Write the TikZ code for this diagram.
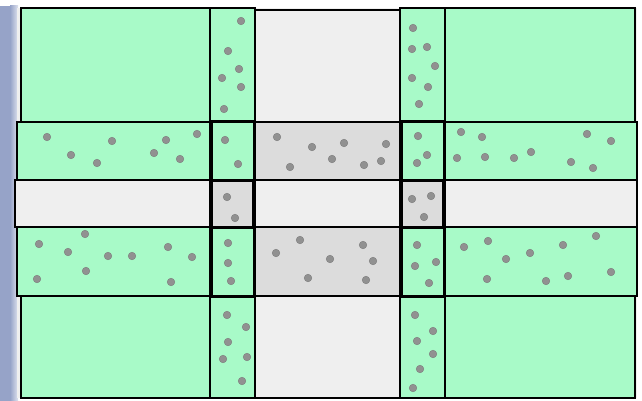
\documentclass[tikz,border=0pt]{standalone}
\definecolor{mint}{RGB}{168,250,200}
\definecolor{paper}{RGB}{239,239,239}
\definecolor{crossgray}{RGB}{220,220,220}
\definecolor{graincol}{RGB}{145,145,145}
\definecolor{slide}{RGB}{150,163,200}
\begin{document}
\begin{tikzpicture}[x=1pt,y=-1pt,
    cell/.style={draw=black,line width=1.3pt},
    strip/.style={draw=black,line width=2.2pt},
    knot/.style={draw=black,line width=3pt},
    grain/.style={fill=graincol,draw=graincol!85!black,line width=0.4pt}]
    \useasboundingbox (0,0) rectangle (642,401);
    % Slide background
    \fill[white] (0,0) rectangle (642,401);
    \fill[slide] (0,6) rectangle (10,401);
    \shade[left color=slide,right color=slide!30!white] (10,6) rectangle (18,401);
    \fill[paper] (17,8) rectangle (637,398);

    % Green corner blocks
    \foreach \xa/\xb in {21/210,445/635}
        \foreach \ya/\yb in {8/122,296/398}
            \draw[cell,fill=mint] (\xa,\ya) rectangle (\xb,\yb);

    % Middle white blocks
    \draw[cell,fill=paper] (255,10) rectangle (400,122);
    \draw[cell,fill=paper] (255,296) rectangle (400,398);
    \draw[cell,fill=paper] (15,180) rectangle (210,227);
    \draw[cell,fill=paper] (445,180) rectangle (637,227);
    \draw[cell,fill=paper] (255,180) rectangle (400,227);

    % Column strips
    \foreach \xa/\xb in {210/255,400/445} {
        \draw[strip,fill=mint] (\xa,8) rectangle (\xb,398);
        \draw[cell,fill=crossgray] (\xa+2,180) rectangle (\xb-2,227);
    }

    % Row bands
    \foreach \ya/\yb in {122/180,227/296} {
        \draw[strip,fill=mint] (17,\ya) rectangle (210,\yb);
        \draw[strip,fill=crossgray] (255,\ya) rectangle (400,\yb);
        \draw[strip,fill=mint] (445,\ya) rectangle (637,\yb);
        \draw[knot,fill=mint] (211,\ya) rectangle (254,\yb);
        \draw[knot,fill=mint] (401,\ya) rectangle (444,\yb);
    }

    % Grains: column B
    \foreach \x/\y in {241/21,228/51,239/69,222/78,241/87,224/109,
                       225/140,238/164,227/197,235/218,228/243,228/263,231/281,
                       227/315,246/327,228/342,223/359,247/357,242/381}
        \draw[grain] (\x,\y) circle (3.8);
    % Grains: column D
    \foreach \x/\y in {413/28,412/49,427/47,435/66,412/78,428/87,419/104,
                       418/136,427/155,417/163,412/199,431/196,424/217,
                       417/245,415/266,436/262,429/283,
                       415/315,433/331,417/341,433/354,420/369,413/388}
        \draw[grain] (\x,\y) circle (3.8);
    % Grains: row 2
    \foreach \x/\y in {47/137,71/155,112/141,97/163,166/140,154/153,180/159,197/134,
                       277/137,312/147,344/143,386/144,290/167,332/159,364/165,381/161,
                       461/132,482/137,587/134,611/141,457/158,485/157,514/158,
                       531/152,571/162,593/168}
        \draw[grain] (\x,\y) circle (3.8);
    % Grains: row 4
    \foreach \x/\y in {39/244,68/252,85/234,108/256,132/256,168/247,192/257,86/271,
                       37/279,171/282,
                       300/240,276/253,363/245,330/259,373/261,308/278,366/280,
                       464/247,488/241,506/259,530/253,563/245,596/236,487/279,
                       546/281,568/276,611/272}
        \draw[grain] (\x,\y) circle (3.8);
\end{tikzpicture}
\end{document}
